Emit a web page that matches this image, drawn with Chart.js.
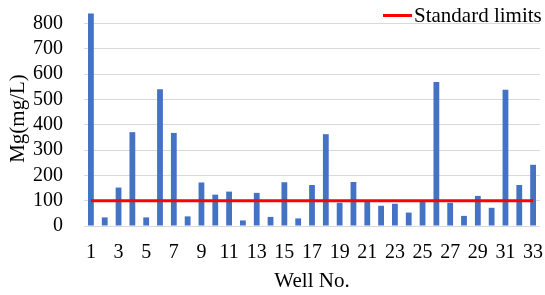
<!DOCTYPE html>
<html>
<head>
<meta charset="utf-8">
<script src="https://cdn.jsdelivr.net/npm/chart.js@4.4.9/dist/chart.umd.min.js"></script>
<style>
  html, body { margin: 0; padding: 0; background: #ffffff; }
  #wrap { position: relative; width: 545px; height: 295px; }
  #legend {
    position: absolute; top: 3px; left: 383px;
    font-family: 'Liberation Serif', 'Times New Roman', serif; font-size: 21px; color: #000;
    display: flex; align-items: center; white-space: nowrap;
  }
  #legend .swatch { display: inline-block; width: 29px; height: 3px; background: #ff0000; margin-right: 2px; }
</style>
</head>
<body>
<div id="wrap">
  <canvas id="chart" width="545" height="295"></canvas>
  <div id="legend"></div>
</div>
<script>
const wells = ['1','2','3','4','5','6','7','8','9','10','11','12','13','14','15','16','17',
  '18','19','20','21','22','23','24','25','26','27','28','29','30','31','32','33'];
const mgValues = [840, 34, 152, 371, 34, 541, 368, 38, 172, 124, 136, 22, 131, 36, 173, 30, 162,
  363, 92, 174, 97, 80, 88, 53, 96, 569, 92, 40, 119, 72, 539, 162, 242];
const limitValue = 100;
const limitLine = wells.map(() => limitValue);
const limitLabel = 'Standard limits';
const yTicks = [0, 100, 200, 300, 400, 500, 600, 700, 800];

const serif = "'Liberation Serif', 'Times New Roman', serif";

document.getElementById('legend').innerHTML =
  '<span class="swatch"></span><span>' + limitLabel + '</span>';

new Chart(document.getElementById('chart').getContext('2d'), {
  data: {
    labels: wells,
    datasets: [
      {
        type: 'line',
        label: limitLabel,
        data: limitLine,
        borderColor: '#ff0000',
        borderWidth: 3,
        pointRadius: 0,
        order: 0
      },
      {
        type: 'bar',
        label: 'Mg',
        data: mgValues,
        backgroundColor: '#4472c4',
        barPercentage: 0.42,
        categoryPercentage: 1,
        order: 1
      }
    ]
  },
  options: {
    responsive: false,
    animation: false,
    devicePixelRatio: 1,
    layout: { padding: { top: 11, right: 5, bottom: 1, left: 6 } },
    plugins: {
      legend: { display: false },
      tooltip: { enabled: false }
    },
    scales: {
      x: {
        // fixed box; drop the label overhang padding Chart.js adds
        afterFit: axis => { axis.height = 68; axis.paddingLeft = 0; axis.paddingRight = 0; },
        grid: { display: false, drawTicks: false },
        border: { display: false },
        ticks: {
          autoSkip: false,
          maxRotation: 0,
          padding: 15,
          color: '#000',
          font: { family: serif, size: 20 },
          callback: function (value, index) {
            return index % 2 === 0 ? this.getLabelForValue(value) : '';
          }
        },
        title: {
          display: true,
          text: 'Well No.',
          color: '#000',
          font: { family: serif, size: 21 },
          padding: { top: 0, bottom: 0 }
        }
      },
      y: {
        min: 0,
        max: 850,
        afterFit: axis => { axis.width = 78; axis.paddingTop = 0; axis.paddingBottom = 0; },
        afterBuildTicks: axis => { axis.ticks = yTicks.map(v => ({ value: v })); },
        grid: { color: '#d9d9d9', lineWidth: 1, drawTicks: false },
        border: { display: false },
        ticks: {
          autoSkip: false,
          padding: 21,
          color: '#000',
          font: { family: serif, size: 20 }
        },
        title: {
          display: true,
          text: 'Mg(mg/L)',
          color: '#000',
          font: { family: serif, size: 21 },
          padding: { top: 0, bottom: 0 }
        }
      }
    }
  }
});
</script>
</body>
</html>
